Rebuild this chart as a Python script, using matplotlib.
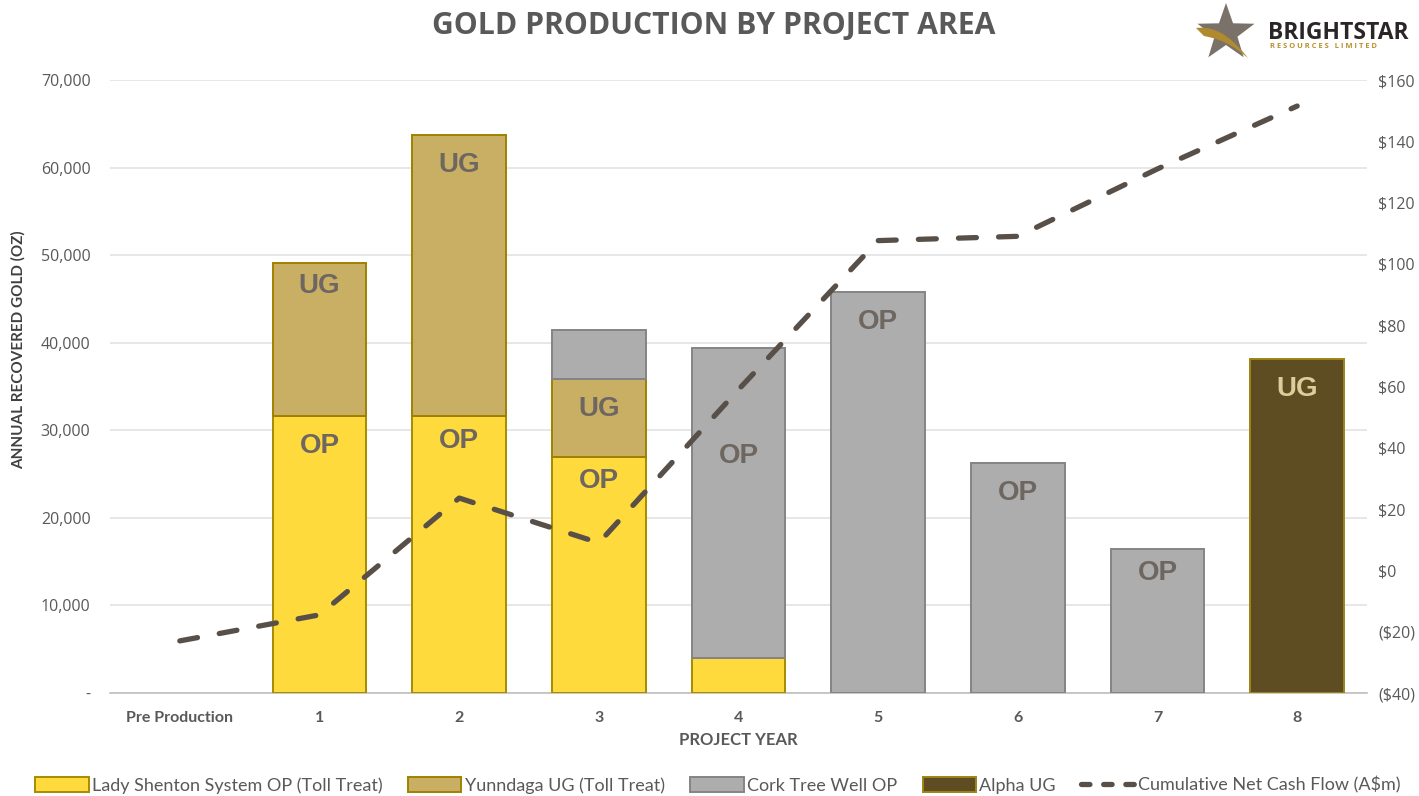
import matplotlib
matplotlib.use("Agg")
import matplotlib.pyplot as plt
from matplotlib.patches import Patch, Polygon
from matplotlib.lines import Line2D
from matplotlib.ticker import FuncFormatter
import numpy as np

# ---------------- data ----------------
categories = ["Pre Production", "1", "2", "3", "4", "5", "6", "7", "8"]
lady_shenton = [0, 31600, 31600, 26900, 4000, 0, 0, 0, 0]
yunndaga = [0, 17500, 32100, 9000, 0, 0, 0, 0, 0]
cork_tree = [0, 0, 0, 5550, 35400, 45800, 26300, 16500, 0]
alpha_ug = [0, 0, 0, 0, 0, 0, 0, 0, 38100]
cash_flow = [-23, -14.5, 23.6, 9, 59, 107.6, 109, 131, 151.5]

series_names = ["Lady Shenton System OP (Toll Treat)", "Yunndaga UG (Toll Treat)",
                "Cork Tree Well OP", "Alpha UG"]
line_name = "Cumulative Net Cash Flow (A$m)"
left_ticks = [0, 10000, 20000, 30000, 40000, 50000, 60000, 70000]
right_ticks = [-40, -20, 0, 20, 40, 60, 80, 100, 120, 140, 160]

# segment labels: (category index, series index, text)
seg_labels = [(1, 0, "OP"), (1, 1, "UG"), (2, 0, "OP"), (2, 1, "UG"),
              (3, 0, "OP"), (3, 1, "UG"), (4, 2, "OP"), (5, 2, "OP"),
              (6, 2, "OP"), (7, 2, "OP"), (8, 3, "UG")]

# ---------------- style ----------------
face = ["#FFDA3C", "#C9AF63", "#ADADAD", "#5E4D22"]
edge = ["#A68A00", "#A08000", "#848484", "#9C8416"]
label_col = ["#6E6660", "#6E6660", "#6E6660", "#DCCD9A"]
label_offset = {(4, 2): -108, (1, 1): -23, (2, 0): -25, (3, 0): -24, (7, 2): -24}
line_col = "#585048"
txt_col = "#595959"

W, H = 1419, 796
fig = plt.figure(figsize=(W / 100, H / 100), dpi=100)
ax = fig.add_axes([110 / W, 1 - 693 / H, (1367 - 110) / W, (693 - 80) / H])

x = np.arange(len(categories))
width = 0.67
stack = [lady_shenton, yunndaga, cork_tree, alpha_ug]
bottom = np.zeros(len(categories))
tops = []
for i, vals in enumerate(stack):
    vals = np.array(vals, dtype=float)
    m = vals > 0
    ax.bar(x[m], vals[m], width, bottom=bottom[m], color=face[i], edgecolor=edge[i],
           linewidth=1.4, zorder=3)
    tops.append(bottom + vals)
    bottom = bottom + vals

for ci, si, t in seg_labels:
    off = label_offset.get((ci, si), -30)
    ax.annotate(t, (x[ci], tops[si][ci]), xytext=(0, off * 0.72),
                textcoords="offset points", ha="center", va="center",
                fontsize=20, fontweight="bold", family="Liberation Sans",
                color=label_col[si], zorder=5)

ax.set_xlim(-0.5, len(categories) - 0.5)
ax.set_ylim(0, 70000)
ax.set_yticks(left_ticks)
ax.yaxis.set_major_formatter(FuncFormatter(lambda v, p: "-" if v == 0 else f"{int(v):,}"))
ax.set_xticks(x)
ax.set_xticklabels(categories)
ax.grid(axis="y", color="#E3E3E3", linewidth=1.2, zorder=0)
ax.set_axisbelow(True)
for s in ["top", "right", "left"]:
    ax.spines[s].set_visible(False)
ax.spines["bottom"].set_color("#BFBFBF")
ax.spines["bottom"].set_linewidth(1.2)
ax.tick_params(axis="both", length=0)
ax.tick_params(axis="y", pad=14, labelsize=11.5, labelcolor=txt_col)
ax.tick_params(axis="x", pad=13, labelsize=11.5, labelcolor=txt_col)
for lab in ax.get_yticklabels():
    lab.set_family("Open Sans")
for lab in ax.get_xticklabels():
    lab.set_family("Lato")
    lab.set_fontweight("bold")

ax.set_xlabel("PROJECT YEAR", fontsize=12, fontweight="bold", family="Lato",
              color=txt_col, labelpad=5)
ax.set_ylabel("ANNUAL RECOVERED GOLD (OZ)", fontsize=11, fontweight="bold",
              family="Lato", color="#404040")
ax.yaxis.set_label_coords(-0.067, 0.56)

ax2 = ax.twinx()
ax2.plot(x, cash_flow, color=line_col, linewidth=3.8, linestyle=(0, (3.4, 4.2)),
         dash_capstyle="round", zorder=6)
ax2.set_ylim(-40, 160)
ax2.set_yticks(right_ticks)
ax2.yaxis.set_major_formatter(FuncFormatter(
    lambda v, p: f"(${int(abs(v))})" if v < 0 else f"${int(v)}"))
for s in ["top", "right", "left", "bottom"]:
    ax2.spines[s].set_visible(False)
ax2.tick_params(axis="y", length=0, pad=8, labelsize=11.5, labelcolor=txt_col)
for lab in ax2.get_yticklabels():
    lab.set_family("Open Sans")

# title
fig.text(714 / W, 1 - 26 / H, "GOLD PRODUCTION BY PROJECT AREA", ha="center", va="center",
         fontsize=21.7, fontweight="bold", family="Open Sans", color=txt_col)

# legend
handles = [Patch(facecolor=face[i], edgecolor=edge[i], linewidth=1.4, label=series_names[i])
           for i in range(4)]
handles.append(Line2D([0], [0], color=line_col, linewidth=3.8, linestyle=(0, (1.6, 2.6)),
                      dash_capstyle="round", label=line_name))
leg = fig.legend(handles=handles, loc="center", bbox_to_anchor=(718 / W, 1 - 785 / H),
                 ncol=5, frameon=False, handlelength=2.95, handleheight=0.95,
                 handletextpad=0.2, columnspacing=1.4, prop={"family": "Lato", "size": 13})
for t in leg.get_texts():
    t.set_color(txt_col)

# logo
lax = fig.add_axes([1190 / W, 1 - 62 / H, 80 / W, 62 / H])
lax.set_xlim(0, 80)
lax.set_ylim(62, 0)
lax.axis("off")
cx, cy, ro, ri = 36, 33, 30, 12
pts = []
for k in range(10):
    ang = -np.pi / 2 + k * np.pi / 5
    r = ro if k % 2 == 0 else ri
    pts.append((cx + r * np.cos(ang), cy + r * np.sin(ang)))
lax.add_patch(Polygon(pts, closed=True, facecolor="#7A7169", edgecolor="none"))
tt = np.linspace(0, 1, 30)
upper = np.column_stack([6 + 52 * tt, 28 - 2 * np.sin(np.pi * tt) + 30 * tt ** 2])
lower = np.column_stack([58 - 44 * tt, 58 - 22 * tt - 4 * np.sin(np.pi * tt)])
lax.add_patch(Polygon(np.vstack([upper, lower]), closed=True, facecolor="#B08A2E",
                      edgecolor="none"))
fig.text(1268 / W, 1 - 33 / H, "BRIGHTSTAR", ha="left", va="center", fontsize=16.5,
         fontweight="bold", family="Open Sans", color="#2A2626")
fig.text(1270 / W, 1 - 46 / H, "R E S O U R C E S   L I M I T E D", ha="left", va="center",
         fontsize=5.4, fontweight="bold", family="Open Sans", color="#B8912C")

fig.savefig("out.png", dpi=100)
